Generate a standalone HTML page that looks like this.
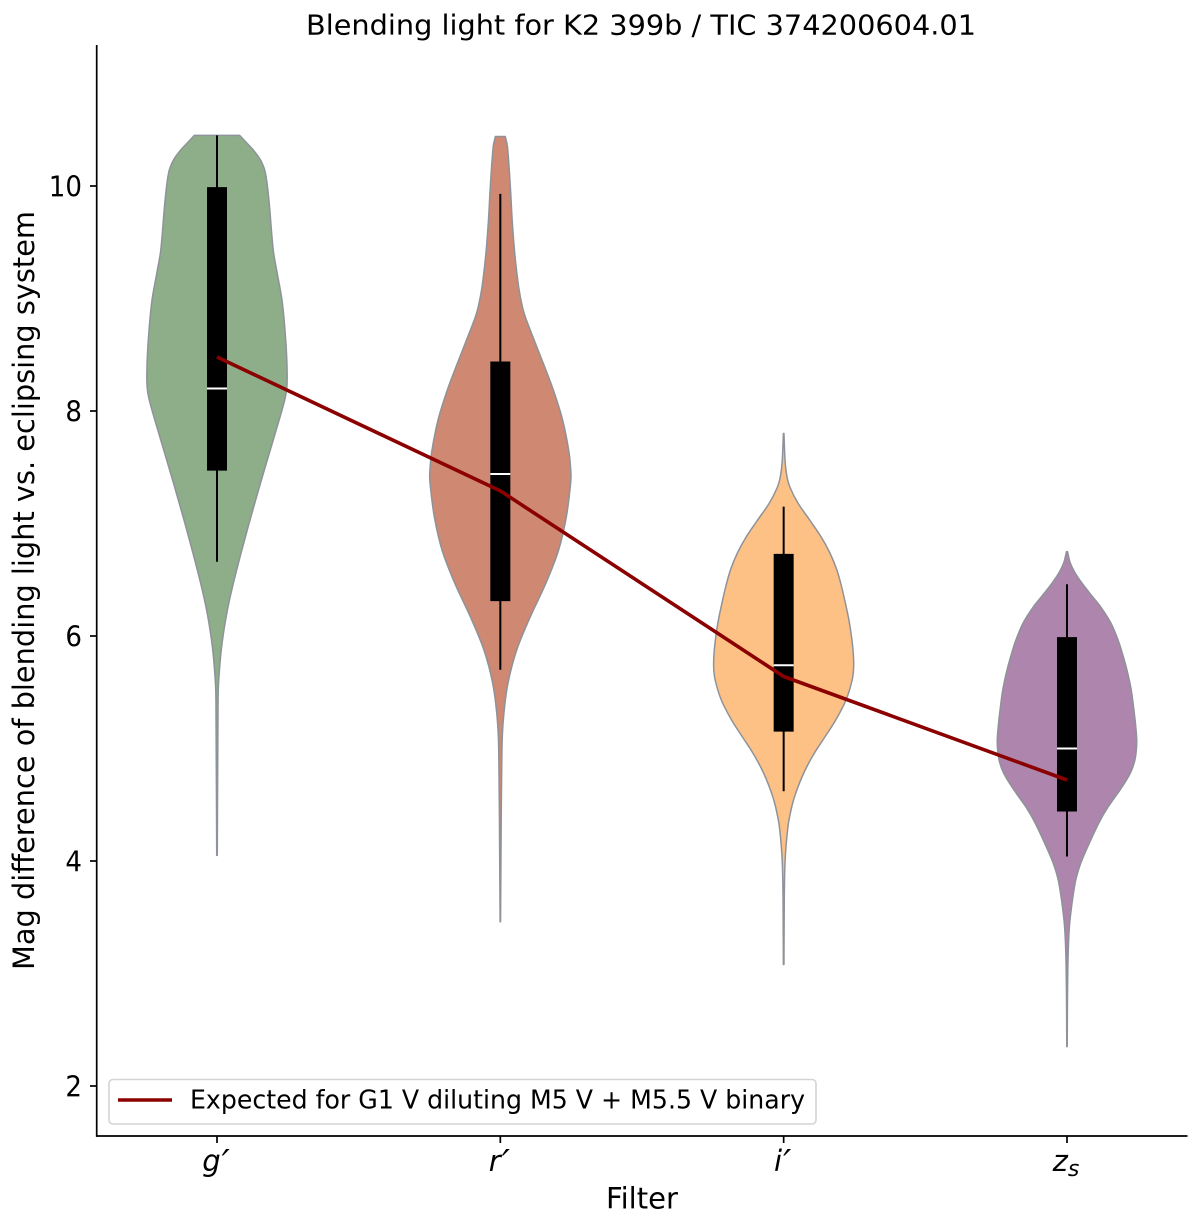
<!DOCTYPE html>
<html lang="en">
<head>
<meta charset="utf-8">
<title>Blending light for K2 399b</title>
<style>
html,body{margin:0;padding:0;background:#fff;width:1200px;height:1232px;overflow:hidden}
svg{display:block}
text{font-family:"DejaVu Sans","Liberation Sans",sans-serif;fill:#000}
</style>
</head>
<body>
<svg id="chart" xmlns="http://www.w3.org/2000/svg" width="1200" height="1232" viewBox="0 0 1200 1232">
  <rect x="0" y="0" width="1200" height="1232" fill="#fff"/>
  <g id="violins"></g>
  <g id="boxes"></g>
  <polyline id="expected" fill="none" stroke="#8b0000" stroke-width="3.6" stroke-linejoin="round"/>
  <g id="axes">
    <line x1="96.7" y1="45" x2="96.7" y2="1136.8" stroke="#000" stroke-width="1.7"/>
    <line x1="96" y1="1136" x2="1187.5" y2="1136" stroke="#000" stroke-width="1.7"/>
  </g>
  <g id="yticks"></g>
  <g id="xticks"></g>
  <text x="641" y="34.5" font-size="28" text-anchor="middle" textLength="670" lengthAdjust="spacingAndGlyphs">Blending light for K2 399b / TIC 374200604.01</text>
  <text x="642" y="1208.5" font-size="29" text-anchor="middle" textLength="72" lengthAdjust="spacingAndGlyphs">Filter</text>
  <text transform="translate(34,590.5) rotate(-90)" font-size="29" text-anchor="middle" textLength="759" lengthAdjust="spacingAndGlyphs">Mag difference of blending light vs. eclipsing system</text>
  <g>
    <rect x="109" y="1079.5" width="707" height="44.5" rx="4" ry="4" fill="#fff" fill-opacity="0.8" stroke="#d4d4d4" stroke-width="1.6"/>
    <line x1="118" y1="1100" x2="172" y2="1100" stroke="#8b0000" stroke-width="3.6"/>
    <text x="190" y="1108.5" font-size="25.5" textLength="615" lengthAdjust="spacingAndGlyphs">Expected for G1 V diluting M5 V + M5.5 V binary</text>
  </g>
</svg>
<script>
const categories = ["g", "r", "i", "z"];
const tickSuffixes = ["\u2032", "\u2032", "\u2032", "s"];
const yTickValues = [2, 4, 6, 8, 10];

const gMag = [10.45,10.38,10.32,10.23,10.12,9.88,9.43,9.25,8.99,8.72,8.45,8.23,8.10,7.83,7.39,6.94,6.50,6.20,5.90,5.61,5.43,4.05];
const gDensity = [.32,.42,.52,.63,.70,.74,.77,.85,.93,.96,.99,1,.97,.83,.63,.42,.24,.127,.056,.021,.011,.004];

const rMag = [10.44,10.35,9.99,9.70,9.40,9.10,8.92,8.81,8.52,8.21,7.92,7.63,7.45,7.36,7.06,6.76,6.47,6.17,5.88,5.58,5.28,4.99,3.46];
const rDensity = [.07,.117,.14,.165,.20,.25,.31,.36,.55,.74,.90,.98,1,1,.94,.85,.65,.42,.21,.09,.042,.01,.003];

const iMag = [7.80,7.54,7.41,7.32,7.18,7.03,6.88,6.74,6.59,6.44,6.29,6.14,5.99,5.85,5.72,5.61,5.43,5.25,5.10,4.96,4.81,4.66,4.52,4.36,4.28,4.12,3.95,3.68,3.08];
const iDensity = [.004,.014,.042,.085,.18,.38,.535,.66,.76,.82,.87,.93,.96,.985,1,.97,.91,.73,.59,.42,.30,.20,.12,.07,.056,.028,.014,.007,.004];

const zMag = [6.75,6.65,6.56,6.47,6.35,6.26,6.12,5.96,5.81,5.67,5.52,5.37,5.19,5.05,4.90,4.78,4.63,4.48,4.34,4.10,3.95,3.80,3.50,3.32,3.06,2.76,2.35];
const zDensity = [.007,.032,.11,.21,.35,.49,.63,.73,.80,.86,.915,.94,.97,1,.97,.91,.76,.56,.45,.27,.17,.10,.042,.021,.01,.006,.003];

const q1Values = [7.47, 6.31, 5.15, 4.44];
const q3Values = [9.99, 8.44, 6.73, 5.99];
const medianValues = [8.20, 7.44, 5.74, 5.00];
const whiskerLow = [6.66, 5.70, 4.62, 4.04];
const whiskerHigh = [10.45, 9.93, 7.15, 6.46];
const expectedValues = [8.48, 7.29, 5.64, 4.72];

const violinMags = [gMag, rMag, iMag, zMag];
const violinDensities = [gDensity, rDensity, iDensity, zDensity];
const violinFills = ["#8eae8a", "#cf8872", "#fdc185", "#ae85ac"];

const NS = "http://www.w3.org/2000/svg";
const xScale = function (i) { return 217 + i * 283.33; };
const yScale = function (v) { return 186 + (10 - v) * 112.5; };
const widthScale = function (d) { return d * 70.8; };

function make(tag, attrs, parent) {
  const el = document.createElementNS(NS, tag);
  Object.keys(attrs).forEach(function (k) { el.setAttribute(k, attrs[k]); });
  parent.appendChild(el);
  return el;
}

/* Removes small wobble from the curve outline: blends each density with the
   straight line through its two neighbours. End points are left alone. */
function relax(mags, dens) {
  return dens.map(function (d, j) {
    if (j === 0 || j === dens.length - 1) return d;
    const t = (mags[j] - mags[j - 1]) / (mags[j + 1] - mags[j - 1]);
    const mid = dens[j - 1] + t * (dens[j + 1] - dens[j - 1]);
    return d * 0.5 + mid * 0.5;
  });
}

function smooth(pts) {
  let d = "";
  for (let i = 0; i < pts.length - 1; i++) {
    const p0 = pts[Math.max(0, i - 1)], p1 = pts[i], p2 = pts[i + 1], p3 = pts[Math.min(pts.length - 1, i + 2)];
    const h = p2[1] - p1[1];
    const m1 = (p2[0] - p0[0]) / ((p2[1] - p0[1]) || 1);
    const m2 = (p3[0] - p1[0]) / ((p3[1] - p1[1]) || 1);
    d += " C" + (p1[0] + m1 * h / 3).toFixed(2) + " " + (p1[1] + h / 3).toFixed(2) + " " +
      (p2[0] - m2 * h / 3).toFixed(2) + " " + (p2[1] - h / 3).toFixed(2) + " " +
      p2[0].toFixed(2) + " " + p2[1].toFixed(2);
  }
  return d;
}

const violinLayer = document.getElementById("violins");
categories.forEach(function (cat, i) {
  const cx = xScale(i);
  const dens = relax(violinMags[i], violinDensities[i]);
  const left = violinMags[i].map(function (m, j) { return [cx - widthScale(dens[j]), yScale(m)]; });
  const right = violinMags[i].map(function (m, j) { return [cx + widthScale(dens[j]), yScale(m)]; }).reverse();
  const d = "M" + left[0][0].toFixed(2) + " " + left[0][1].toFixed(2) + smooth(left) +
    " L" + right[0][0].toFixed(2) + " " + right[0][1].toFixed(2) + smooth(right) + " Z";
  const path = make("path", { d: d, fill: violinFills[i], stroke: "#8d9399", "stroke-width": 1.5, "stroke-linejoin": "round" }, violinLayer);
  
  
});

const boxLayer = document.getElementById("boxes");
categories.forEach(function (cat, i) {
  const cx = xScale(i);
  const whisker = make("line", { x1: cx, x2: cx, y1: yScale(whiskerHigh[i]), y2: yScale(whiskerLow[i]), stroke: "#000", "stroke-width": 2 }, boxLayer);
  
  
  const box = make("rect", { x: cx - 10, width: 20, y: yScale(q3Values[i]), height: yScale(q1Values[i]) - yScale(q3Values[i]), fill: "#000" }, boxLayer);
  
  
  const med = make("line", { x1: cx - 10, x2: cx + 10, y1: yScale(medianValues[i]), y2: yScale(medianValues[i]), stroke: "#fff", "stroke-width": 2 }, boxLayer);
  
  
});

document.getElementById("expected").setAttribute("points", expectedValues.map(function (v, i) {
  return xScale(i).toFixed(2) + "," + yScale(v).toFixed(2);
}).join(" "));

const yTickLayer = document.getElementById("yticks");
yTickValues.forEach(function (v) {
  const y = yScale(v);
  const tick = make("line", { x1: 90, x2: 96, y1: y, y2: y, stroke: "#000", "stroke-width": 1.7 }, yTickLayer);
  
  
  const label = make("text", { x: 82, y: y + 10.5, "font-size": 28.5, "text-anchor": "end", textLength: String(v).length * 16.6, lengthAdjust: "spacingAndGlyphs" }, yTickLayer);
  
  
  label.textContent = String(v);
});

const xTickLayer = document.getElementById("xticks");
categories.forEach(function (cat, i) {
  const x = xScale(i);
  const tick = make("line", { x1: x, x2: x, y1: 1136, y2: 1143, stroke: "#000", "stroke-width": 1.7 }, xTickLayer);
  
  
  const label = make("text", { x: x - 1, y: 1171, "font-size": 29, "font-style": "italic", "text-anchor": "middle" }, xTickLayer);
  
  
  const base = make("tspan", {}, label);
  base.textContent = cat;
  const isSub = tickSuffixes[i] === "s";
  const suffix = make("tspan", { dy: isSub ? 5 : 4, dx: isSub ? 0 : 1, "font-size": isSub ? 22 : 36 }, label);
  suffix.textContent = tickSuffixes[i];
});
</script>
</body>
</html>
